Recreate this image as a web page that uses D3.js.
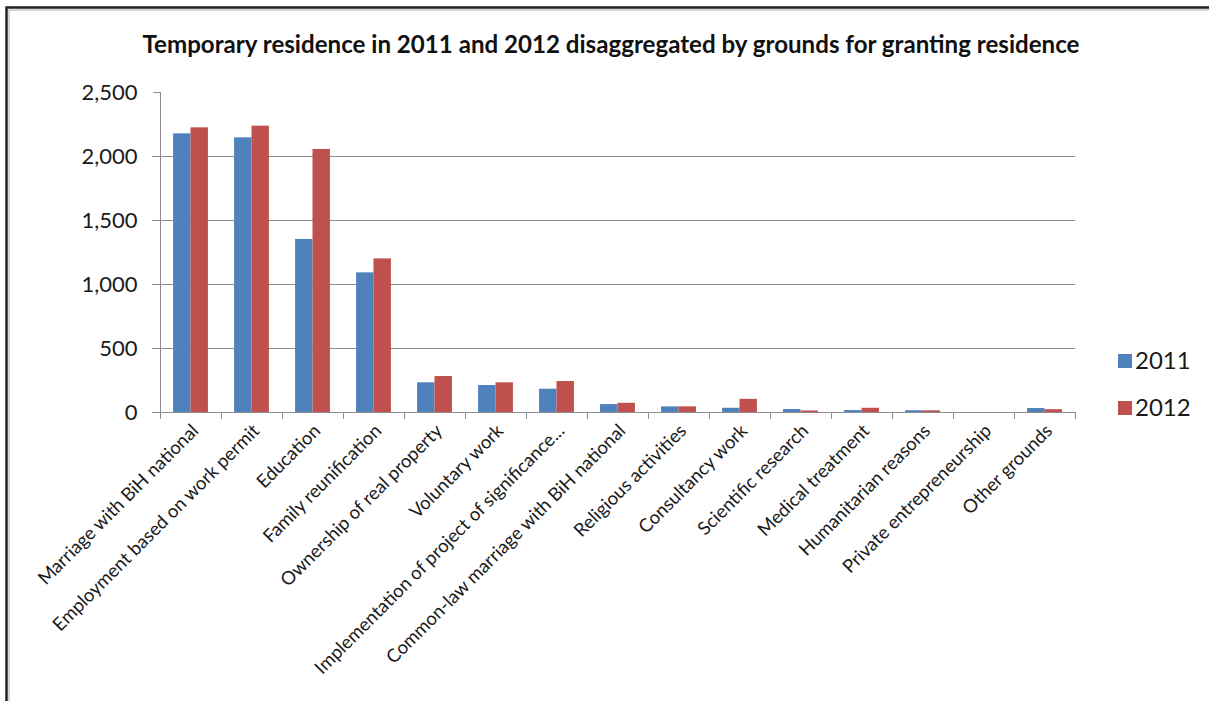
<!DOCTYPE html>
<html><head><meta charset="utf-8">
<script src="https://cdn.jsdelivr.net/npm/d3@7"></script>
<style>html,body{margin:0;padding:0;background:#fff;overflow:hidden;} svg{display:block;}</style>
</head><body>
<svg id="chart" width="1209" height="701"></svg>
<script>
const categories = ["Marriage with BiH national","Employment based on work permit","Education","Family reunification","Ownership of real property","Voluntary work","Implementation of project of significance...","Common-law marriage with BiH national","Religious activities","Consultancy work","Scientific research","Medical treatment","Humanitarian reasons","Private entrepreneurship","Other grounds"];
const values2011 = [2177,2146,1352,1091,232,211,182,62,44,33,23,15,14,0,31];
const values2012 = [2224,2237,2055,1200,281,232,242,72,44,103,12,33,13,0,22];
const seriesNames = ["2011","2012"];
const yTicks = [0,500,1000,1500,2000,2500];
const colors = ["#4F81BD","#C0504D"];
const title = "Temporary residence in 2011 and 2012 disaggregated by grounds for granting residence";

(function(){
const svg = d3.select("#chart");
const font = "Lato, 'Open Sans', sans-serif";

// frame
svg.append("path").attr("d","M6.5,701V7.5H1209").attr("fill","none").attr("stroke","#222").attr("stroke-width",2.5);
svg.append("path").attr("d","M9,701V10H1209").attr("fill","none").attr("stroke","#aaa").attr("stroke-width",1);

const pL=160, pR=1075, pT=92, pB=412;
const x = d3.scaleBand().domain(categories).range([pL,pR]).paddingInner(0.4286).paddingOuter(0.2143);
const xOuter = d3.scaleBand().domain(categories).range([pL,pR]);
const xs = d3.scaleBand().domain(seriesNames).range([0,x.bandwidth()]);
const y = d3.scaleLinear().domain([0,2500]).range([pB,pT]);

// gridlines
svg.append("g").selectAll("line").data(yTicks.filter(t=>t>0 && t<2500)).join("line")
  .attr("x1",152).attr("x2",pR).attr("y1",d=>Math.round(y(d))+0.5).attr("y2",d=>Math.round(y(d))+0.5)
  .attr("stroke","#8c8c8c").attr("stroke-width",1);

// bars
const data = categories.map((c,i)=>({c, v:[values2011[i],values2012[i]]}));
const g = svg.append("g");
data.forEach(d=>{
  seriesNames.forEach((s,j)=>{
    g.append("rect").attr("x",x(d.c)+xs(s)).attr("width",xs.bandwidth())
      .attr("y",y(d.v[j])).attr("height",pB-y(d.v[j]))
      .attr("fill",colors[j]);
  });
});

// y axis
const yAxis = d3.axisLeft(y).tickValues(yTicks).tickFormat(d3.format(",")).tickSize(7).tickPadding(16);
const ya = svg.append("g").attr("transform",`translate(${pL+0.5},0)`).call(yAxis);
ya.select(".domain").attr("stroke","#8c8c8c").attr("d",`M0,${pT}V${pB+7}`);
ya.selectAll(".tick line").attr("stroke","#8c8c8c");
ya.selectAll(".tick text").attr("font-family",font).attr("font-size",22).attr("fill","#1a1a1a");

// x axis
svg.append("line").attr("x1",152).attr("x2",pR+0.5).attr("y1",pB+0.5).attr("y2",pB+0.5).attr("stroke","#8c8c8c");
const bounds = categories.map(c=>xOuter(c)).concat([pR]);
svg.append("g").selectAll("line").data(bounds).join("line")
  .attr("x1",d=>Math.round(d)+0.5).attr("x2",d=>Math.round(d)+0.5).attr("y1",pB).attr("y2",pB+7)
  .attr("stroke","#8c8c8c");
svg.append("g").selectAll("text").data(categories).join("text")
  .attr("transform",d=>`translate(${x(d)+x.bandwidth()/2+9},${pB+20}) rotate(-45)`)
  .attr("text-anchor","end").attr("font-family",font).attr("font-size",18.5).attr("fill","#1a1a1a")
  .text(d=>d);

// title
const t = svg.append("text").attr("x",611).attr("y",53).attr("text-anchor","middle")
  .attr("font-family",font).attr("font-weight","bold").attr("font-size",20).attr("fill","#111").text(title);
const w = t.node().getComputedTextLength();
t.attr("font-size",20*937/w);

// legend
const lg = svg.append("g");
seriesNames.forEach((s,j)=>{
  const cy = 361 + j*47;
  lg.append("rect").attr("x",1118).attr("y",cy-7).attr("width",14).attr("height",14).attr("fill",colors[j]);
  lg.append("text").attr("x",1135).attr("y",cy+8).attr("font-family",font).attr("font-size",24).attr("fill","#1a1a1a").text(s);
});
})();
</script>
</body></html>
